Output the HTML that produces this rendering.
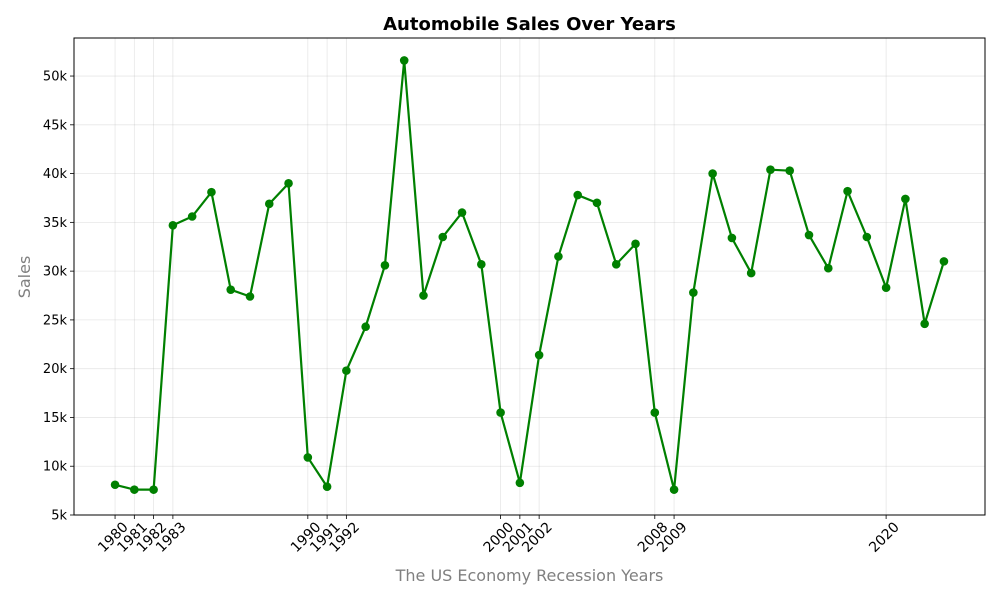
<!DOCTYPE html>
<html><head><meta charset="utf-8"><style>
body{margin:0;background:#fff;font-family:"Liberation Sans","DejaVu Sans",sans-serif}
svg text{font-family:"DejaVu Sans","Liberation Sans",sans-serif}
</style></head><body>
<svg id="chart" width="1000" height="600" xmlns="http://www.w3.org/2000/svg">
<rect width="1000" height="600" fill="#fff"/>
<g id="grid"></g><g id="axes"></g><g id="series"></g>
<text x="529.5" y="30" text-anchor="middle" font-size="18" font-weight="bold">Automobile Sales Over Years</text>
<text x="529.5" y="581" text-anchor="middle" font-size="16" fill="#808080">The US Economy Recession Years</text>
<text transform="translate(30,277) rotate(-90)" text-anchor="middle" font-size="16" fill="#808080">Sales</text>
</svg>
<script>
const years=[1980,1981,1982,1983,1984,1985,1986,1987,1988,1989,1990,1991,1992,1993,1994,1995,1996,1997,1998,1999,2000,2001,2002,2003,2004,2005,2006,2007,2008,2009,2010,2011,2012,2013,2014,2015,2016,2017,2018,2019,2020,2021,2022,2023];
const sales=[8.1,7.6,7.6,34.7,35.6,38.1,28.1,27.4,36.9,39.0,10.9,7.9,19.8,24.3,30.6,51.6,27.5,33.5,36.0,30.7,15.5,8.3,21.4,31.5,37.8,37.0,30.7,32.8,15.5,7.6,27.8,40.0,33.4,29.8,40.4,40.3,33.7,30.3,38.2,33.5,28.3,37.4,24.6,31.0];
const xTicks=[1980,1981,1982,1983,1990,1991,1992,2000,2001,2002,2008,2009,2020];
const yTicks=[5,10,15,20,25,30,35,40,45,50];
const L=74,R=985,T=38,B=515;
const xMin=1977.87,xMax=2025.13,yMin=5,yMax=53.9;
const sx=v=>L+(v-xMin)/(xMax-xMin)*(R-L);
const sy=v=>B-(v-yMin)/(yMax-yMin)*(B-T);
const NS="http://www.w3.org/2000/svg";
function mk(t,a,p){const e=document.createElementNS(NS,t);for(const k in a)e.setAttribute(k,a[k]);p.appendChild(e);return e;}
const grid=document.getElementById('grid'),axes=document.getElementById('axes'),ser=document.getElementById('series');
xTicks.forEach(y=>{const x=sx(y);
const g=mk('line',{x1:x,x2:x,y1:T,y2:B,stroke:'#b0b0b0','stroke-opacity':0.3,'stroke-width':0.8},grid);


mk('line',{x1:x,x2:x,y1:B,y2:B+4,stroke:'#000','stroke-width':0.8},axes);
const ax=x+7,ay=B+6;
const t=mk('text',{x:ax,y:ay,'font-size':14,'text-anchor':'end',transform:`rotate(-45 ${ax} ${ay})`,'dominant-baseline':'hanging'},axes);
t.textContent=y;

});
yTicks.forEach(v=>{const y=sy(v);
const g=mk('line',{x1:L,x2:R,y1:y,y2:y,stroke:'#b0b0b0','stroke-opacity':0.3,'stroke-width':0.8},grid);


mk('line',{x1:L-4,x2:L,y1:y,y2:y,stroke:'#000','stroke-width':0.8},axes);
const t=mk('text',{x:L-7,y:y+4.5,'font-size':13,'text-anchor':'end'},axes);
t.textContent=v+'k';

});
const fr=mk('rect',{x:L,y:T,width:R-L,height:B-T,fill:'none',stroke:'#000','stroke-width':1},axes);


const pl=mk('polyline',{points:years.map((y,i)=>sx(y)+','+sy(sales[i])).join(' '),fill:'none',stroke:'#008000','stroke-width':2.2,'stroke-linejoin':'round'},ser);


years.forEach((y,i)=>{const c=mk('circle',{cx:sx(y),cy:sy(sales[i]),r:4.3,fill:'#008000'},ser);

});
</script>
</body></html>
